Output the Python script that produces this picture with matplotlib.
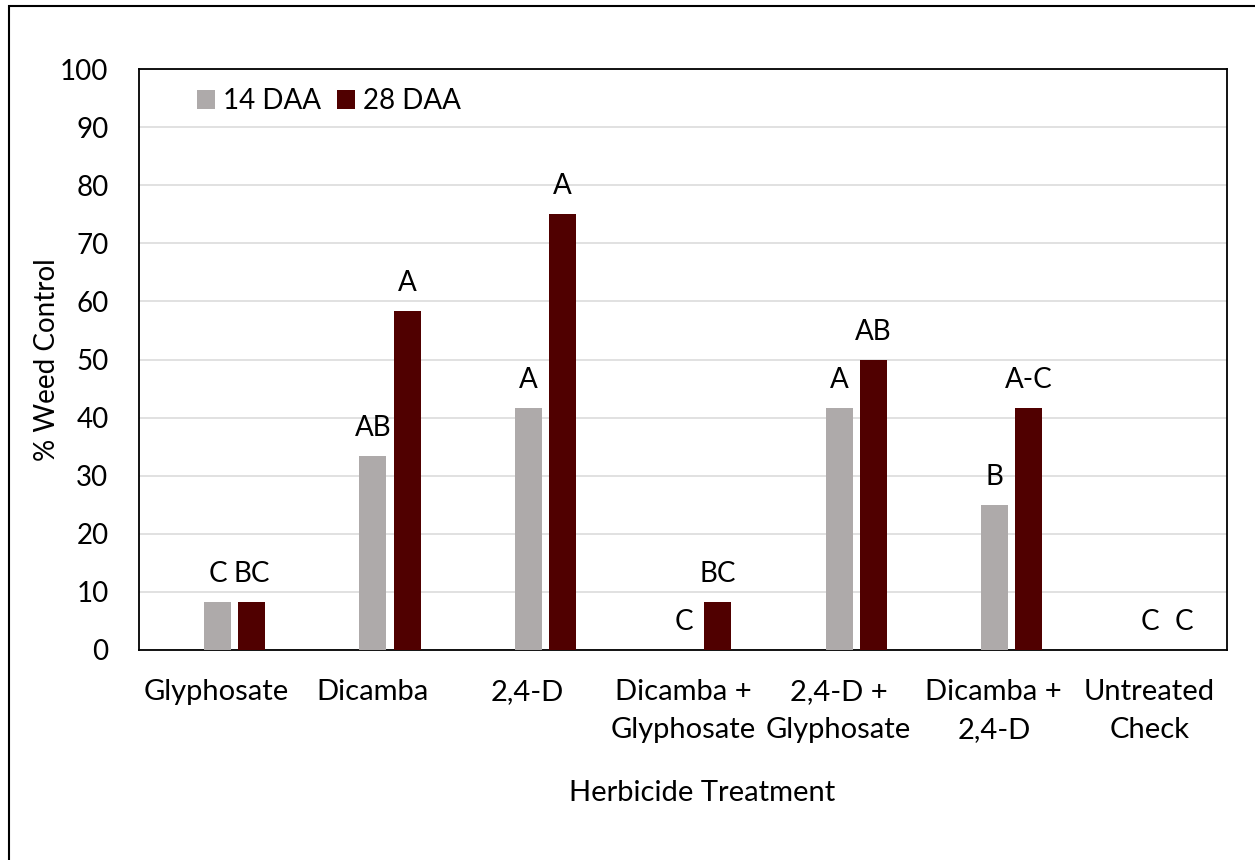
import matplotlib.pyplot as plt
from matplotlib.patches import Rectangle
import numpy as np

# データ
treatments = ["Glyphosate", "Dicamba", "2,4-D", "Dicamba +\nGlyphosate",
              "2,4-D +\nGlyphosate", "Dicamba +\n2,4-D", "Untreated\nCheck"]
daa14 = [8.33, 33.33, 41.67, 0, 41.67, 25.0, 0]
daa28 = [8.33, 58.33, 75.0, 8.33, 50.0, 41.67, 0]
letters14 = ["C", "AB", "A", "C", "A", "B", "C"]
letters28 = ["BC", "A", "A", "BC", "AB", "A-C", "C"]

c14 = "#AEAAAA"
c28 = "#500000"

plt.rcParams['font.family'] = ['Lato', 'DejaVu Sans']
fs = 20

fig = plt.figure(figsize=(12.55, 8.6), dpi=100)
ax = fig.add_axes([139 / 1255, 1 - 650 / 860, 1088 / 1255, 581 / 860])

x = np.arange(len(treatments)) + 0.5
w = 0.174
off14 = 0.005
off28 = 0.225

ax.bar(x + off14, daa14, width=w, color=c14, label="14 DAA", zorder=3)
ax.bar(x + off28, daa28, width=w, color=c28, label="28 DAA", zorder=3)

# 文字の注記
for i in range(len(treatments)):
    ax.annotate(letters14[i], (x[i] + off14, daa14[i]), xytext=(0, 14.4),
                textcoords="offset points", ha="center", va="baseline", fontsize=fs)
    ax.annotate(letters28[i], (x[i] + off28, daa28[i]), xytext=(0, 14.4),
                textcoords="offset points", ha="center", va="baseline", fontsize=fs)

ax.set_xlim(0, len(treatments))
ax.set_ylim(0, 100)
ax.set_yticks(np.arange(0, 101, 10))
ax.set_xticks(x)
ax.set_xticklabels(treatments, fontsize=21, linespacing=1.55)
ax.tick_params(axis="y", length=0, pad=22, labelsize=fs)
ax.tick_params(axis="x", length=0, pad=21)
ax.yaxis.grid(True, color="#D9D9D9", linewidth=1.1, zorder=0)
ax.set_axisbelow(True)
for s in ax.spines.values():
    s.set_linewidth(1.3)
    s.set_color("black")

ax.set_ylabel("% Weed Control", fontsize=fs)
ax.yaxis.set_label_coords((60 - 139) / 1088, 0.5)
fig.text(702 / 1255, 1 - 793 / 860, "Herbicide Treatment", fontsize=21,
         ha="center", va="center")

ax.legend(loc="center left", bbox_to_anchor=((197 - 139) / 1088, (650 - 101) / 581),
          ncol=2, frameon=False, fontsize=fs, handlelength=0.65, handleheight=0.65,
          handletextpad=0.3, columnspacing=0.55, borderpad=0, borderaxespad=0)

# 外枠
fig.patches.append(Rectangle((9 / 1255, -0.1), 1.2, 1 - 6 / 860 + 0.1,
                             transform=fig.transFigure, fill=False,
                             edgecolor="black", linewidth=1.5))

plt.savefig("out.png", dpi=100)
